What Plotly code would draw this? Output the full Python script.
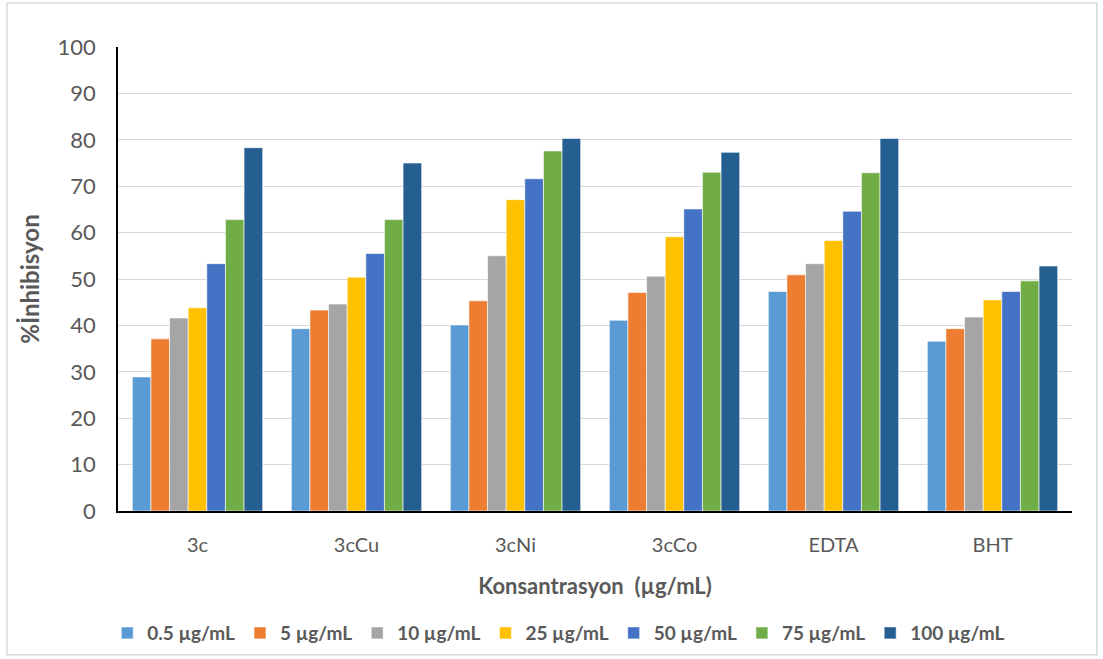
import plotly.graph_objects as go

categories = ["3c", "3cCu", "3cNi", "3cCo", "EDTA", "BHT"]
series_names = ["0.5 µg/mL", "5 µg/mL", "10 µg/mL", "25 µg/mL", "50 µg/mL", "75 µg/mL", "100 µg/mL"]
v_05 = [28.9, 39.3, 40.1, 41.1, 47.3, 36.6]
v_5 = [37.1, 43.3, 45.3, 47.1, 50.9, 39.3]
v_10 = [41.6, 44.6, 55.0, 50.6, 53.3, 41.8]
v_25 = [43.8, 50.4, 67.1, 59.1, 58.3, 45.5]
v_50 = [53.3, 55.5, 71.6, 65.1, 64.6, 47.3]
v_75 = [62.8, 62.8, 77.6, 73.0, 72.9, 49.6]
v_100 = [78.3, 75.0, 80.3, 77.3, 80.3, 52.8]
series_values = [v_05, v_5, v_10, v_25, v_50, v_75, v_100]
colors = ["#5B9BD5", "#ED7D31", "#A5A5A5", "#FFC000", "#4472C4", "#70AD47", "#255E91"]

font_family = "Lato, 'Open Sans', sans-serif"
text_color = "#595959"

fig = go.Figure()
for name, vals, col in zip(series_names, series_values, colors):
    fig.add_trace(go.Bar(
        x=categories, y=vals, name=name,
        marker=dict(color=col, line=dict(color="white", width=0.6)),
    ))

fig.update_layout(
    width=1103, height=659,
    margin=dict(l=118, r=31, t=47, b=148, autoexpand=False),
    paper_bgcolor="white", plot_bgcolor="white",
    barmode="group", bargap=0.18, bargroupgap=0,
    font=dict(family=font_family, color=text_color, size=18),
    showlegend=True,
    legend=dict(orientation="h", x=0.462, xanchor="center", y=-0.263, yanchor="middle",
                font=dict(size=19, color=text_color, family=font_family, weight="bold"),
                itemwidth=30, traceorder="normal", itemclick=False),
    xaxis=dict(
        automargin=False,
        showline=True, linecolor="black", linewidth=1.5,
        ticks="", tickfont=dict(size=20, color=text_color),
        ticklabelstandoff=15,
        title=dict(text="Konsantrasyon  (µg/mL)", standoff=24,
                   font=dict(size=22, color=text_color, weight="bold")),
    ),
    yaxis=dict(
        automargin=False,
        range=[0, 100], dtick=10, showline=True, linecolor="black", linewidth=1.5,
        showgrid=True, gridcolor="#D9D9D9", gridwidth=1,
        ticks="", tickfont=dict(size=22, color=text_color),
        ticklabelstandoff=16,
        zeroline=False,
        title=dict(text="%İnhibisyon", standoff=11,
                   font=dict(size=24, color=text_color, weight="bold")),
    ),
    shapes=[dict(type="rect", xref="paper", yref="paper",
                 x0=-0.1164, x1=1.026, y0=-0.31, y1=1.095,
                 line=dict(color="#D9D9D9", width=1.5), fillcolor="rgba(0,0,0,0)", layer="below")],
)

fig.write_html("out.html", config={"displayModeBar": False},
               post_script="document.body.style.margin='0';")
